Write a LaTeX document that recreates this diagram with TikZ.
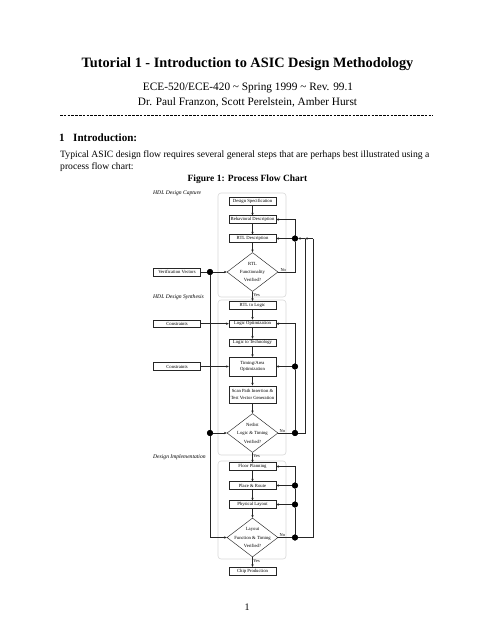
\documentclass[tikz,border=0pt]{standalone}
\usepackage{fontspec}
\setmainfont{Liberation Serif}
\usetikzlibrary{shapes.geometric,arrows.meta}
\begin{document}
\begin{tikzpicture}[x=1pt,y=-1pt,
  box/.style={draw=black!85, line width=0.45pt, minimum width=47pt, minimum height=7.6pt, inner sep=0pt, font=\fontsize{4.7}{6.4}\selectfont, align=center},
  dec/.style={draw=black!85, line width=0.45pt, diamond, minimum width=51pt, minimum height=39pt, inner sep=0pt},
  dtext/.style={font=\fontsize{4.7}{8.4}\selectfont, align=center},
  arr/.style={-{Stealth[length=2.8pt,width=2.4pt]}, line width=0.45pt, draw=black!85},
  ln/.style={line width=0.45pt, draw=black!85},
  jdot/.style={circle, draw=black, fill=black, inner sep=0pt, minimum size=5.6pt},
  grp/.style={draw=black!15, line width=0.6pt, rounded corners=3pt},
  glabel/.style={font=\fontsize{5.6}{6}\itshape\selectfont, anchor=west, inner sep=0pt},
  yn/.style={font=\fontsize{4.4}{5}\selectfont, inner sep=0.6pt}
]
\fill[white] (0,0) rectangle (495,640);
\useasboundingbox (0,0) rectangle (495,640);

% header
\node[font=\fontsize{14.3}{16}\bfseries\selectfont, anchor=base, inner sep=0pt] (title) at (247.5,67.5) {Tutorial 1 - Introduction to ASIC Design Methodology};
\node[font=\fontsize{11.3}{13}\selectfont, anchor=base, inner sep=0pt] (sub1) at (248,90) {ECE-520/ECE-420 \textasciitilde{} Spring 1999 \textasciitilde{} Rev. 99.1};
\node[font=\fontsize{11.3}{13}\selectfont, anchor=base, inner sep=0pt] (sub2) at (247.5,105.5) {Dr. Paul Franzon, Scott Perelstein, Amber Hurst};
\draw[dash pattern=on 2.6pt off 1.2pt, line width=0.6pt] (60,115.5) -- (433,115.5);
\node[font=\fontsize{11.1}{14}\bfseries\selectfont, anchor=base west, inner sep=0pt] (sec) at (59,141.7) {1\hspace{8.5pt}Introduction:};
\node[font=\fontsize{9.65}{12}\selectfont, anchor=base west, inner sep=0pt] (body1) at (60,157.5) {Typical ASIC design flow requires several general steps that are perhaps best illustrated using a};
\node[font=\fontsize{9.65}{12}\selectfont, anchor=base west, inner sep=0pt] (body2) at (60,169.5) {process flow chart:};
\node[font=\fontsize{9.5}{12}\bfseries\selectfont, anchor=base, inner sep=0pt] (cap) at (247.5,181) {Figure 1: Process Flow Chart};
\node[font=\fontsize{10}{12}\selectfont, anchor=base, inner sep=0pt] (pg) at (247,610.5) {1};

% groups
\draw[grp] (218,193) rectangle (286,297);
\draw[grp] (218,300) rectangle (286,455);
\draw[grp] (218,461) rectangle (286,559);
\node[glabel] (g1) at (153,193) {HDL Design Capture};
\node[glabel] (g2) at (153,297) {HDL Design Synthesis};
\node[glabel] (g3) at (153,457.5) {Design Implementation};

% main column
\node[box] (spec) at (252.5,201.5) {Design Specification};
\node[box] (beh) at (252.5,219.5) {Behavioral Description};
\node[box] (rtl) at (252.5,238.5) {RTL Description};
\node[dec] (d1) at (252.5,272) {};
\node[dtext] (t1) at (d1.center) {RTL\\Functionality\\Verified?};
\node[box] (r2l) at (252.5,305) {RTL to Logic};
\node[box] (lopt) at (252.5,323.7) {Logic Optimization};
\node[box] (l2t) at (252.5,342.8) {Logic to Technology};
\node[box, minimum height=18.5pt] (ta) at (252.5,366.5) {Timing/Area\\Optimization};
\node[box, minimum height=17.5pt] (scan) at (252.5,394.5) {Scan Path Insertion \&\\Test Vector Generation};
\node[dec] (d2) at (252.5,433) {};
\node[dtext] (t2) at (d2.center) {Netlist\\Logic \& Timing\\Verified?};
\node[box] (fp) at (252.5,466.5) {Floor Planning};
\node[box] (pr) at (252.5,485.5) {Place \& Route};
\node[box] (pl) at (252.5,504.5) {Physical Layout};
\node[dec] (d3) at (252.5,537.5) {};
\node[dtext] (t3) at (d3.center) {Layout\\Function \& Timing\\Verified?};
\node[box] (chip) at (252.5,571) {Chip Production};

% left inputs
\node[box] (vv) at (177,272) {Verification Vectors};
\node[box] (c1) at (177,323.7) {Constraints};
\node[box] (c2) at (177,366.5) {Constraints};

% dots and corners
\node[jdot] (dv1) at (210,272) {};
\node[jdot] (dv2) at (210,433) {};
\coordinate (dv3) at (210,537.5);
\node[jdot] (n1) at (295,238.5) {};
\node[jdot] (n2) at (295,433) {};
\node[jdot] (n3) at (295,366.5) {};
\node[jdot] (n4) at (295,537.5) {};
\node[jdot] (n5) at (295,504.5) {};
\node[jdot] (n6) at (295,485.5) {};
\coordinate (k1) at (295,272);
\coordinate (k2) at (295,219.5);
\coordinate (k3) at (295,323.7);
\coordinate (k4) at (295,466.5);
\coordinate (j1) at (305,238.5);
\coordinate (j2) at (313,238.5);
\coordinate (j3) at (305,433);
\coordinate (j4) at (313,537.5);

% main flow
\draw[arr] (spec) -- (beh);
\draw[arr] (beh) -- (rtl);
\draw[arr] (rtl) -- (d1.north);
\draw[arr] (d1.south) -- node[yn, right, pos=0.35] {Yes} (r2l.north);
\draw[arr] (r2l) -- (lopt);
\draw[arr] (lopt) -- (l2t);
\draw[arr] (l2t) -- (ta);
\draw[arr] (ta) -- (scan);
\draw[arr] (scan) -- (d2.north);
\draw[arr] (d2.south) -- node[yn, right, pos=0.35] {Yes} (fp.north);
\draw[arr] (fp) -- (pr);
\draw[arr] (pr) -- (pl);
\draw[arr] (pl) -- (d3.north);
\draw[arr] (d3.south) -- node[yn, right, pos=0.35] {Yes} (chip.north);

% left feeds
\draw[ln] (vv) -- (dv1);
\draw[arr] (dv1) -- (d1.west);
\draw[ln] (dv1) -- (dv2);
\draw[arr] (dv2) -- (d2.west);
\draw[ln] (dv2) -- (dv3);
\draw[arr] (dv3) -- (d3.west);
\draw[arr] (c1) -- (lopt);
\draw[arr] (c2) -- (ta);

% right feedback
\draw[ln] (d1.east) -- node[yn, above, pos=0.3] {No} (k1) -- (n1);
\draw[arr] (n1) -- (rtl.east);
\draw[arr] (n1) -- (k2) -- (beh.east);
\draw[ln] (d2.east) -- node[yn, above, pos=0.3] {No} (n2) -- (j3) -- (j1);
\draw[arr] (j1) -- (n1);
\draw[ln] (d3.east) -- node[yn, above, pos=0.3] {No} (n4) -- (j4) -- (j2);
\draw[arr] (j2) -- (j1);
\draw[ln] (n2) -- (n3);
\draw[arr] (n3) -- (ta.east);
\draw[arr] (n3) -- (k3) -- (lopt.east);
\draw[ln] (n4) -- (n5);
\draw[arr] (n5) -- (pl.east);
\draw[ln] (n5) -- (n6);
\draw[arr] (n6) -- (pr.east);
\draw[arr] (n6) -- (k4) -- (fp.east);

% redraw dots on top
\foreach \d in {dv1,dv2,n1,n2,n3,n4,n5,n6} \fill[black] (\d.center) circle (2.9pt);
\end{tikzpicture}
\end{document}
